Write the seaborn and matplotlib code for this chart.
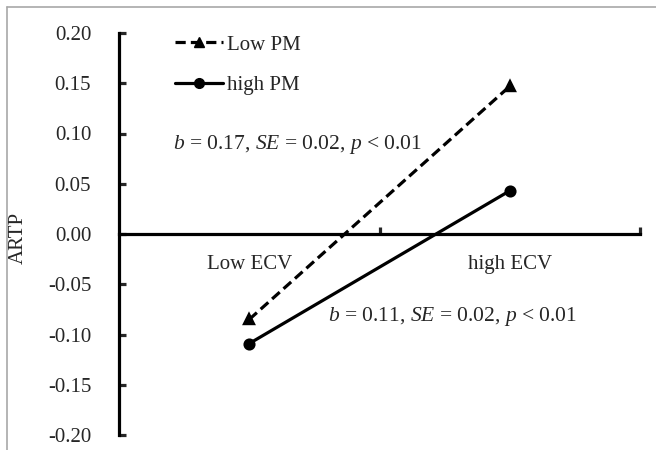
import pandas as pd
import seaborn as sns
import matplotlib.pyplot as plt
from matplotlib.lines import Line2D

# Values
ecv_levels = ["Low ECV", "high ECV"]
low_pm = [-0.085, 0.147]
high_pm = [-0.109, 0.043]
pm_labels = ["Low PM", "high PM"]
y_ticks = [-0.20, -0.15, -0.10, -0.05, 0.00, 0.05, 0.10, 0.15, 0.20]
note_low = r"$b$ = 0.17, $SE$ = 0.02, $p$ < 0.01"
note_high = r"$b$ = 0.11, $SE$ = 0.02, $p$ < 0.01"

df = pd.DataFrame({
    "ECV": ecv_levels * 2,
    "ARTP": low_pm + high_pm,
    "PM": [pm_labels[0]] * 2 + [pm_labels[1]] * 2,
})

sns.set_style("white")
plt.rcParams["font.family"] = ["Liberation Serif", "DejaVu Serif"]
plt.rcParams["mathtext.fontset"] = "custom"
plt.rcParams["mathtext.rm"] = "Liberation Serif"
plt.rcParams["mathtext.it"] = "Liberation Serif:italic"

fig = plt.figure(figsize=(6.56, 4.5), dpi=100)
ax = fig.add_axes([119 / 656, 1 - 435 / 450, 521 / 656, 402 / 450])

sns.pointplot(data=df, x="ECV", y="ARTP", hue="PM", order=ecv_levels,
              hue_order=pm_labels, markers=["^", "o"], linestyles=["--", "-"],
              palette=["black", "black"], errorbar=None, legend=False, ax=ax,
              markersize=7, linewidth=2.3)

for ln in ax.get_lines():
    if ln.get_linestyle() == "--":
        ln.set_dashes([3.2, 1.6])

ax.set_xlim(-0.5, 1.5)
ax.set_ylim(-0.2, 0.2)

# spines
for s in ["top", "right"]:
    ax.spines[s].set_visible(False)
ax.spines["left"].set_linewidth(2.3)
ax.spines["bottom"].set_linewidth(2.3)
ax.spines["bottom"].set_position(("data", 0))
ax.spines["left"].set_color("black")
ax.spines["bottom"].set_color("black")

ax.set_yticks(y_ticks)
ax.set_yticklabels([f"{v:.2f}" for v in y_ticks])
ax.tick_params(axis="y", direction="in", length=5, width=2.3, pad=20,
               labelsize=15, left=True)

# category ticks between the two levels, labels under each level
ax.set_xticks([0.5, 1.5])
ax.set_xticklabels(["", ""])
ax.tick_params(axis="x", which="major", direction="in", length=5, width=2.3,
               bottom=True)
ax.set_xticks([0, 1], minor=True)
ax.set_xticklabels(ecv_levels, minor=True)
ax.tick_params(axis="x", which="minor", length=0, pad=15, labelsize=15)

ax.set_xlabel("")
ax.set_ylabel("ARTP", fontsize=15)
ax.yaxis.set_label_coords(-0.176, 0.49)

fig.text(173 / 656, 1 - 145 / 450, note_low, fontsize=15.5, va="center", ha="left")
fig.text(328 / 656, 1 - 316 / 450, note_high, fontsize=15.5, va="center", ha="left")

handles = [
    Line2D([], [], color="black", linestyle="--", dashes=[3.2, 1.6],
           marker="^", markersize=7, linewidth=2.3),
    Line2D([], [], color="black", linestyle="-", marker="o", markersize=7,
           linewidth=2.3),
]
ax.legend(handles, pm_labels, loc="upper left", frameon=False, fontsize=15,
          bbox_to_anchor=(175 / 656, 1 - 35 / 450), bbox_transform=fig.transFigure,
          borderpad=0, borderaxespad=0, handlelength=2.3, handletextpad=0.2,
          labelspacing=1.0)

# thin gray frame of the original picture
fig.add_artist(Line2D([7 / 656, 7 / 656], [0, 1 - 7 / 450], color="#a8a8a8",
                      linewidth=1.2, transform=fig.transFigure))
fig.add_artist(Line2D([7 / 656, 1], [1 - 7 / 450, 1 - 7 / 450], color="#a8a8a8",
                      linewidth=1.2, transform=fig.transFigure))

fig.savefig("out.png", dpi=100)
